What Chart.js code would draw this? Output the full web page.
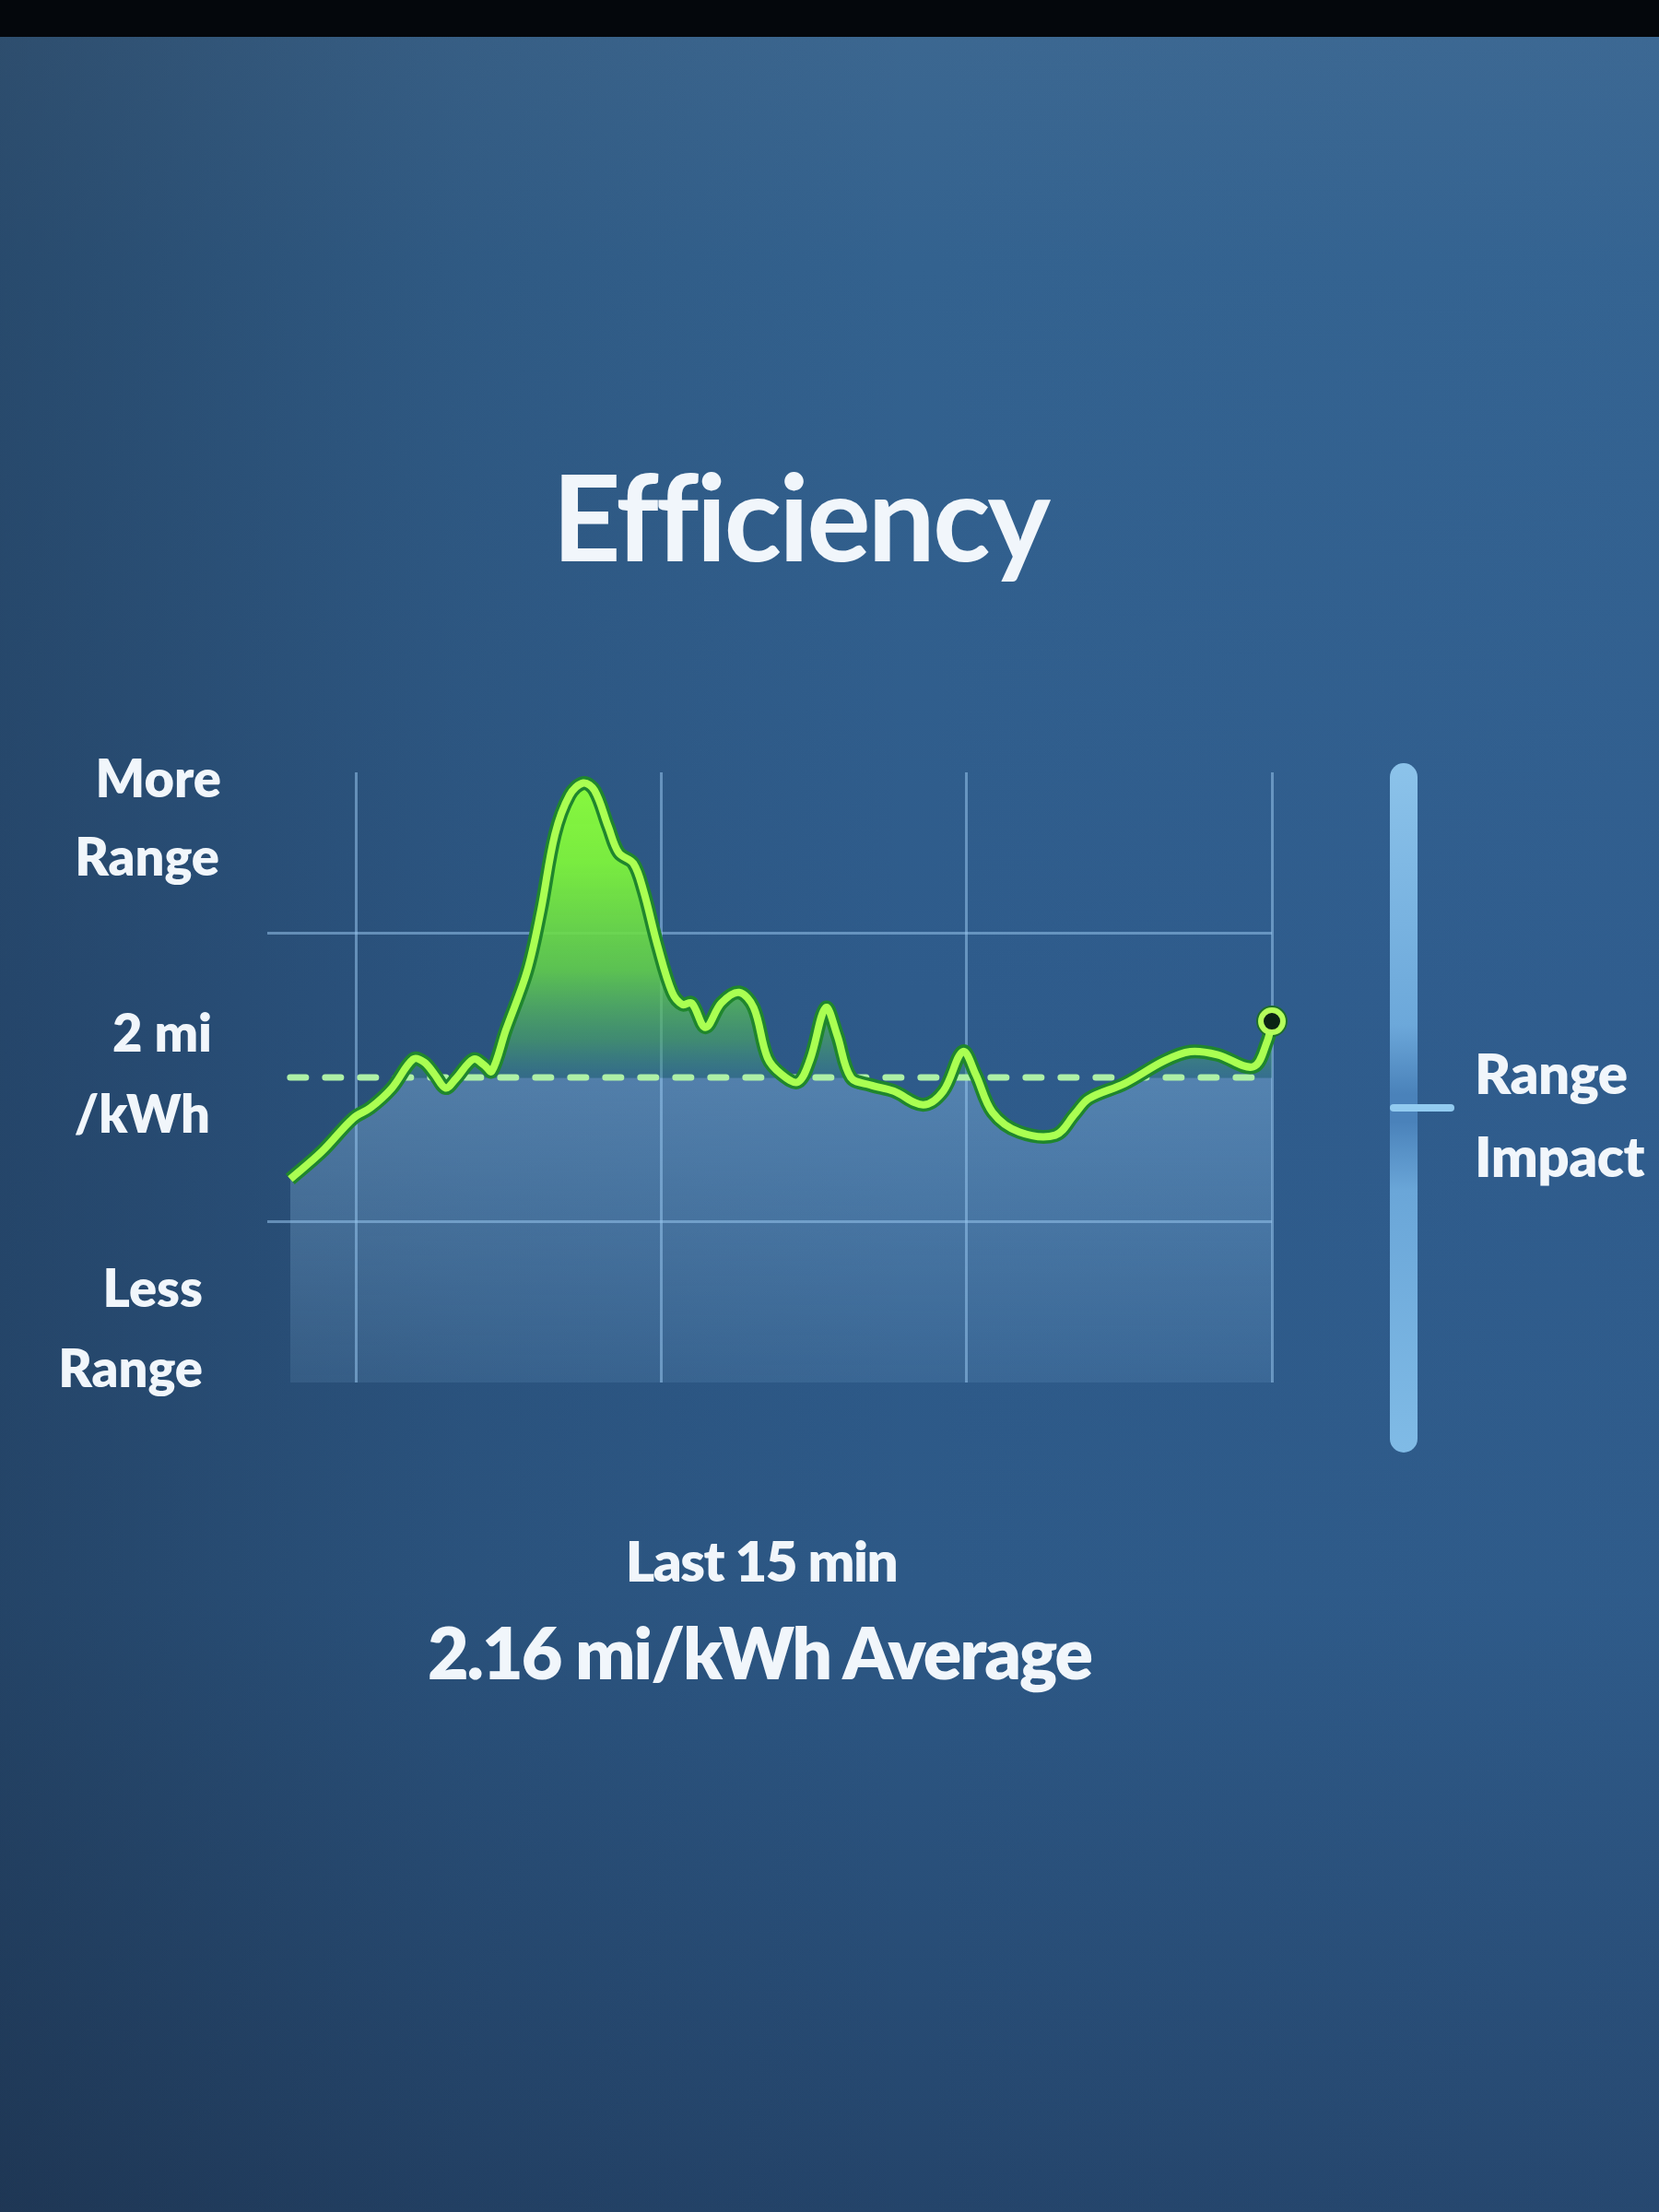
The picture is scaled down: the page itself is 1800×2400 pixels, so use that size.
<!DOCTYPE html>
<html>
<head>
<meta charset="utf-8">
<title>Efficiency</title>
<script src="https://cdn.jsdelivr.net/npm/chart.js@4.4.1/dist/chart.umd.min.js"></script>
<style>
  html, body { margin: 0; padding: 0; }
  body {
    width: 1800px;
    height: 2400px;
    position: relative;
    overflow: hidden;
    font-family: Lato, 'Open Sans', sans-serif;
    color: #f1f6fb;
    background:
      linear-gradient(90deg, rgba(20, 30, 45, 0.35) 0%, rgba(20, 30, 45, 0.12) 28%, rgba(0, 0, 0, 0) 55%, rgba(70, 120, 180, 0.08) 100%),
      linear-gradient(180deg, #3d6891 0%, #33628f 12%, #2e5b8b 45%, #2d5987 72%, #24446a 100%);
  }
  .bezel { position: absolute; left: 0; top: 0; width: 1800px; height: 40px; background: #04070c; }
  #chart { position: absolute; left: 0; top: 0; }
  .txt { position: absolute; white-space: nowrap; font-weight: 800; line-height: 1; }
  .left { text-align: right; font-size: 56px; }
  .right { font-size: 60px; left: 1600px; letter-spacing: -0.5px; }
  .center { transform: translateX(-50%); text-align: center; }
  .slider {
    position: absolute; left: 1508px; top: 828px; width: 30px; height: 748px; border-radius: 15px;
    background: linear-gradient(180deg, #8cc3ea 0%, #6ca8da 38%, #4a82ba 48%, #4a82ba 52%, #6aa6d8 62%, #80bbe6 100%);
  }
  .slider-tick {
    position: absolute; left: 1508px; top: 1198px; width: 70px; height: 8px; border-radius: 4px;
    background: #92cbf0;
  }
</style>
</head>
<body>
<div class="bezel"></div>
<canvas id="chart" width="1800" height="2400"></canvas>

<div class="txt center" style="left:868px; top:494px; font-size:130px; font-weight:700; letter-spacing:-3px;">Efficiency</div>

<div class="txt left" style="right:1560px; top:816px;">More</div>
<div class="txt left" style="right:1562px; top:901px;">Range</div>
<div class="txt left" style="right:1570px; top:1092px;">2 mi</div>
<div class="txt left" style="right:1572px; top:1180px;">/kWh</div>
<div class="txt left" style="right:1580px; top:1369px;">Less</div>
<div class="txt left" style="right:1580px; top:1456px;">Range</div>

<div class="slider"></div>
<div class="slider-tick"></div>
<div class="txt right" style="top:1134px;">Range</div>
<div class="txt right" style="top:1224px;">Impact</div>

<div class="txt center" style="left:826px; top:1663px; font-size:60px; letter-spacing:-1.5px;">Last 15 min</div>
<div class="txt center" style="left:824px; top:1754px; font-size:77px; letter-spacing:-2px;">2.16 mi/kWh Average</div>

<script>
  // position along the window (grid line units) and efficiency in mi/kWh
  const X_POS = [
    -0.215, -0.112, -0.009, 0.048, 0.118, 0.188, 0.224, 0.258, 0.294, 0.327,
    0.385, 0.421, 0.445, 0.491, 0.561, 0.606, 0.652, 0.700, 0.745, 0.782,
    0.827, 0.861, 0.909, 0.942, 0.988, 1.036, 1.070, 1.100, 1.145, 1.197,
    1.255, 1.303, 1.348, 1.394, 1.448, 1.488, 1.539, 1.576, 1.621, 1.685,
    1.761, 1.858, 1.924, 1.988, 2.030, 2.085, 2.173, 2.291, 2.355, 2.400,
    2.518, 2.648, 2.733, 2.821, 2.939, 2.985, 3.000,
  ];
  const EFFICIENCY = [
    1.49, 1.67, 1.89, 1.96, 2.09, 2.28, 2.26, 2.18, 2.09, 2.15,
    2.28, 2.24, 2.20, 2.47, 2.86, 3.26, 3.76, 4.02, 4.10, 4.05,
    3.81, 3.64, 3.57, 3.39, 3.03, 2.72, 2.64, 2.65, 2.49, 2.65,
    2.72, 2.62, 2.29, 2.18, 2.13, 2.28, 2.62, 2.44, 2.16, 2.11,
    2.07, 1.98, 2.07, 2.33, 2.18, 1.93, 1.80, 1.78, 1.92, 2.02,
    2.12, 2.27, 2.33, 2.31, 2.23, 2.40, 2.53,
  ];
  const AVERAGE = 2.16;
  const AVG_SPAN = [-0.215, 2.98];
  const GRID_X = [0, 1, 2, 3];
  const GRID_Y = [1.21, 3.11];
  const X_RANGE = [-0.29, 3];
  const Y_RANGE = [0.15, 4.17];

  const points = X_POS.map((x, i) => ({ x, y: EFFICIENCY[i] }));
  const avgLine = AVG_SPAN.map((x) => ({ x, y: AVERAGE }));
  const lastIndex = points.length - 1;

  // green above the average, pale blue below it
  function areaFill(context) {
    const chart = context.chart;
    const area = chart.chartArea;
    if (!area) return null;
    const avgPx = chart.scales.y.getPixelForValue(AVERAGE);
    const frac = (avgPx - area.top) / (area.bottom - area.top);
    const g = chart.ctx.createLinearGradient(0, area.top, 0, area.bottom);
    g.addColorStop(0, 'rgba(138,250,62,1)');
    g.addColorStop(frac * 0.3, 'rgba(124,240,62,0.97)');
    g.addColorStop(frac * 0.65, 'rgba(100,212,74,0.85)');
    g.addColorStop(frac * 0.88, 'rgba(76,170,104,0.62)');
    g.addColorStop(frac, 'rgba(64,138,146,0.42)');
    g.addColorStop(Math.min(frac + 0.002, 1), 'rgba(150,200,240,0.36)');
    g.addColorStop(1, 'rgba(150,200,240,0.12)');
    return g;
  }

  const gridStyle = { color: 'rgba(150,195,235,0.55)', lineWidth: 3, drawTicks: false };

  new Chart(document.getElementById('chart'), {
    type: 'line',
    data: {
      datasets: [
        {
          label: 'Efficiency',
          data: points,
          borderColor: '#aaff52',
          borderWidth: 8,
          tension: 0.35,
          fill: false,
          clip: false,
          pointRadius: (c) => (c.dataIndex === lastIndex ? 12 : 0),
          pointBackgroundColor: '#0b2414',
          pointBorderColor: '#b4ff5c',
          pointBorderWidth: 6,
          order: 0,
        },
        {
          label: 'Outline',
          data: points,
          borderColor: '#1f862d',
          borderWidth: 15,
          tension: 0.35,
          fill: 'start',
          backgroundColor: areaFill,
          clip: false,
          pointRadius: (c) => (c.dataIndex === lastIndex ? 17 : 0),
          pointBackgroundColor: '#1d6e2a',
          pointBorderWidth: 0,
          order: 1,
        },
        {
          label: 'Average',
          data: avgLine,
          borderColor: '#aef0a6',
          borderWidth: 7,
          borderDash: [17, 21],
          borderCapStyle: 'round',
          pointRadius: 0,
          fill: false,
          order: 2,
        },
      ],
    },
    options: {
      responsive: false,
      animation: false,
      events: [],
      layout: { padding: { left: 290, top: 838, right: 420, bottom: 900 } },
      plugins: {
        legend: { display: false },
        tooltip: { enabled: false },
        filler: { drawTime: 'beforeDatasetsDraw' },
      },
      scales: {
        x: {
          type: 'linear',
          min: X_RANGE[0],
          max: X_RANGE[1],
          border: { display: false },
          ticks: { display: false },
          grid: gridStyle,
          afterBuildTicks: (s) => { s.ticks = GRID_X.map((v) => ({ value: v })); },
        },
        y: {
          type: 'linear',
          min: Y_RANGE[0],
          max: Y_RANGE[1],
          border: { display: false },
          ticks: { display: false },
          grid: gridStyle,
          afterBuildTicks: (s) => { s.ticks = GRID_Y.map((v) => ({ value: v })); },
        },
      },
    },
  });
</script>
</body>
</html>
